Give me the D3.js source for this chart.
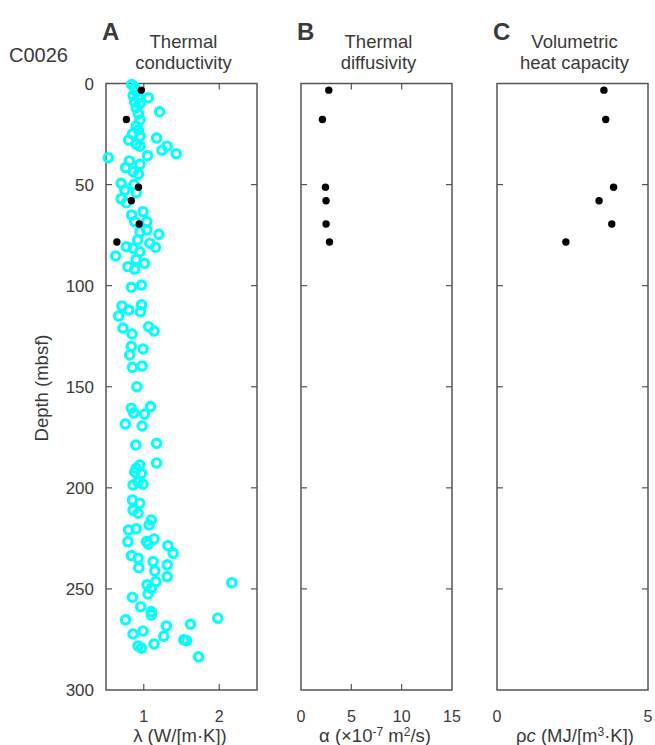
<!DOCTYPE html>
<html><head><meta charset="utf-8">
<script src="https://cdn.jsdelivr.net/npm/d3@7"></script>
<style>body{margin:0;background:#fff}svg{display:block}text{font-family:"Liberation Sans",Arial,sans-serif;fill:#3a3a3a}</style>
</head><body><svg id="c" width="655" height="745"></svg>
<script>
const siteLabel = "C0026";
const depthTicks = [0,50,100,150,200,250,300];
// Panel A: cyan open circles (lambda, depth)
const condLambda = [0.84,0.88,0.90,0.86,0.93,1.06,0.88,0.95,0.90,1.21,0.93,0.95,0.90,0.93,0.85,0.95,0.80,1.17,0.90,0.95,1.31,1.24,1.43,0.53,1.05,0.81,0.76,0.95,0.86,0.93,0.70,0.75,0.87,0.90,0.70,0.77,0.99,0.84,1.04,0.88,1.04,1.20,0.95,
0.92,1.08,1.155,0.77,0.858,0.947,0.628,0.79,0.88,1.01,0.90,0.836,0.97,0.712,0.80,0.668,0.97,0.956,0.725,0.845,1.066,1.137,0.836,0.813,0.99,0.85,0.978,0.91,
0.836,0.867,1.09,1.01,0.757,0.978,0.894,1.17,1.17,0.947,0.90,0.88,0.97,0.858,0.925,0.99,0.85,0.947,0.858,0.925,1.10,1.07,0.80,0.90,0.79,1.036,1.137,1.32,
1.06,1.39,0.836,0.925,0.934,1.124,1.31,1.146,1.31,1.16,1.044,1.10,1.057,2.165,0.85,0.96,1.10,1.10,0.76,1.98,1.62,1.30,0.858,0.99,1.265,1.53,1.567,0.925,0.97,1.137,1.726];
const condDepth = [0.5,2,4,6,7,7,9,10,12,14,15,18,21,23,25,26,28,27,30,31,31,33,34.7,36.7,35.7,38.3,41.6,40,43.6,44.9,49.4,52.7,50,54,57,59,63.4,65,68.3,68.3,72.5,74.6,73.3,
77.4,79,81,80.7,81.5,83.2,85.3,90.6,91.9,88.9,87,100.8,99.7,110,112,115,109.5,112.9,121,123.9,120.3,122.4,130,134.3,131.3,140.4,139.7,150,
160.6,163,159.8,163.6,168.4,169.4,178.8,178,187.7,188.7,190.3,192.3,192.8,198.6,197.2,198.2,206,207.6,211,212.6,215.9,218.4,220.8,220.3,226.6,226.6,225.3,228.6,
227.9,232.4,233.5,234.8,239.5,236.5,238.1,241.1,243.9,246.4,248,249.7,252.5,246.9,254.1,258.8,261.2,262.9,265.3,264.5,267.5,268.3,272.3,270.8,273.4,275.2,275.6,278.2,279.3,277.2,283.6];
// Discrete samples (black dots)
const dotDepth = [3.3,17.8,51.3,58,69.5,78.4];
const dotLambda = [0.967,0.77,0.93,0.836,0.94,0.644];
const dotAlpha = [2.76,2.13,2.43,2.49,2.49,2.83];
const dotRhoC = [3.54,3.60,3.86,3.38,3.80,2.28];

const panels = [
  {letter:"A", title:["Thermal","conductivity"], x0:106, dom:[0.5,2.5], ticks:[1,2], labels:[1,2]},
  {letter:"B", title:["Thermal","diffusivity"], x0:301, dom:[0,15], ticks:[5,10], labels:[0,5,10,15]},
  {letter:"C", title:["Volumetric","heat capacity"], x0:497, dom:[0,5], ticks:[], labels:[0,5]}
];
const W = 151, plotTop = 83.5, plotBot = 690;
const svg = d3.select("#c");
const y = d3.scaleLinear().domain([0,300]).range([plotTop,plotBot]);
const frameCol = "#555";

svg.append("text").attr("x",9).attr("y",62).attr("font-size",20).text(siteLabel);

panels.forEach((p,i)=>{
  const x = d3.scaleLinear().domain(p.dom).range([p.x0,p.x0+W]);
  p.x = x;
  const g = svg.append("g");
  const tl = 6;
  depthTicks.slice(1,-1).forEach(t=>{
    g.append("line").attr("x1",p.x0).attr("x2",p.x0+tl).attr("y1",y(t)).attr("y2",y(t)).attr("stroke",frameCol).attr("stroke-width",1.2);
    g.append("line").attr("x1",p.x0+W-tl).attr("x2",p.x0+W).attr("y1",y(t)).attr("y2",y(t)).attr("stroke",frameCol).attr("stroke-width",1.2);
  });
  p.ticks.forEach(t=>{
    g.append("line").attr("x1",x(t)).attr("x2",x(t)).attr("y1",plotTop).attr("y2",plotTop+tl).attr("stroke",frameCol).attr("stroke-width",1.2);
    g.append("line").attr("x1",x(t)).attr("x2",x(t)).attr("y1",plotBot-tl).attr("y2",plotBot).attr("stroke",frameCol).attr("stroke-width",1.2);
  });
  g.append("rect").attr("x",p.x0).attr("y",plotTop).attr("width",W).attr("height",plotBot-plotTop).attr("fill","none").attr("stroke",frameCol).attr("stroke-width",1.5);
  p.labels.forEach(t=>{
    g.append("text").attr("x",x(t)).attr("y",722).attr("text-anchor","middle").attr("font-size",16).text(t);
  });
  g.append("text").attr("x",p.x0-4).attr("y",40).attr("font-size",24).attr("font-weight","bold").attr("fill","#444").text(p.letter);
  g.append("text").attr("x",p.x0+W/2+2).attr("y",48).attr("text-anchor","middle").attr("font-size",18.5).text(p.title[0]);
  g.append("text").attr("x",p.x0+W/2+2).attr("y",69).attr("text-anchor","middle").attr("font-size",18.5).text(p.title[1]);
});

depthTicks.forEach(t=>{
  svg.append("text").attr("x",94).attr("y",y(t)+6).attr("text-anchor","end").attr("font-size",17).text(t);
});
svg.append("text").attr("transform","translate(48,388) rotate(-90)").attr("text-anchor","middle").attr("font-size",18.5).text("Depth (mbsf)");

const t1 = svg.append("text").attr("x",180).attr("y",742).attr("text-anchor","middle").attr("font-size",18.5);
t1.text("λ (W/[m·K])");
const t2 = svg.append("text").attr("x",375).attr("y",742).attr("text-anchor","middle").attr("font-size",18.5);
t2.append("tspan").text("α (×10");
t2.append("tspan").attr("dy",-6).attr("font-size",12).text("-7");
t2.append("tspan").attr("dy",6).text(" m");
t2.append("tspan").attr("dy",-6).attr("font-size",12).text("2");
t2.append("tspan").attr("dy",6).text("/s)");
const t3 = svg.append("text").attr("x",575).attr("y",742).attr("text-anchor","middle").attr("font-size",18.5);
t3.append("tspan").text("ρ");
t3.append("tspan").attr("font-style","italic").text("c");
t3.append("tspan").text(" (MJ/[m");
t3.append("tspan").attr("dy",-6).attr("font-size",12).text("3");
t3.append("tspan").attr("dy",6).text("·K])");

const xa = panels[0].x, xb = panels[1].x, xc = panels[2].x;
svg.append("g").selectAll("circle").data(d3.range(condLambda.length)).join("circle")
  .attr("cx",i=>xa(condLambda[i])).attr("cy",i=>y(condDepth[i])).attr("r",4.2)
  .attr("fill","none").attr("stroke","#00ffff").attr("stroke-width",3.1);
const dots = [[xa,dotLambda],[xb,dotAlpha],[xc,dotRhoC]];
dots.forEach(([sx,vals])=>{
  svg.append("g").selectAll("circle").data(d3.range(vals.length)).join("circle")
    .attr("cx",i=>sx(vals[i])).attr("cy",i=>y(dotDepth[i])).attr("r",3.7).attr("fill","#000");
});
</script></body></html>
